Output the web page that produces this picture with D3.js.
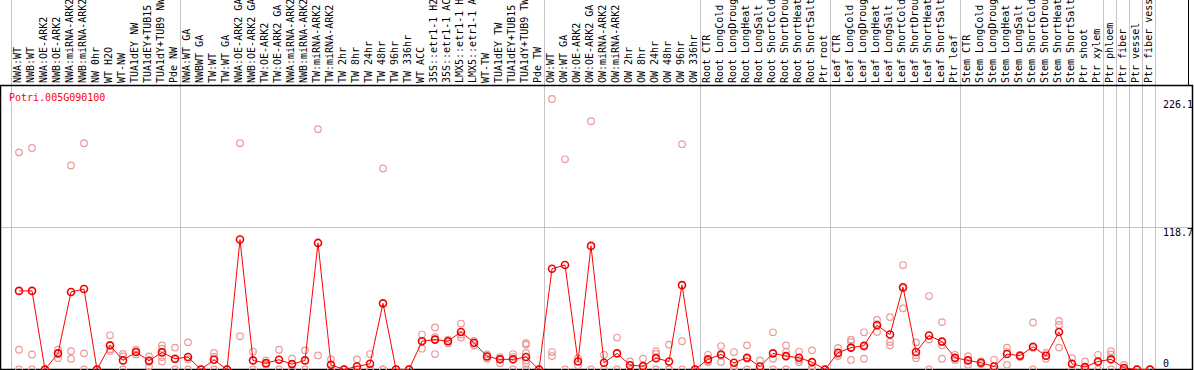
<!DOCTYPE html>
<html>
<head>
<meta charset="utf-8">
<script src="https://cdn.jsdelivr.net/npm/d3@7"></script>
<style>
  body { margin: 0; background: #fff; }
  svg { display: block; }
  text { font-family: "DejaVu Sans Mono", monospace; font-size: 10px; }
</style>
</head>
<body>
<svg></svg>
<script>
// sample names (cut to 14 chars like the original)
const samples = [
  "NWA:WT", "NWB:WT", "NWA:OE-ARK2", "NWB:OE-ARK2", "NWA:miRNA-ARK2", "NWB:miRNA-ARK2",
  "NW 0hr", "WT H2O", "WT-NW", "TUA1dEY NW", "TUA1dEY+TUB15", "TUA1dY+TUB9 NW", "Pde NW",
  "NWA:WT GA", "NWBWT GA", "TW:WT", "TW:WT GA", "NWA:OE-ARK2 GA", "NWB:OE-ARK2 GA",
  "TW:OE-ARK2", "TW:OE-ARK2 GA", "NWA:miRNA-ARK2", "NWB:miRNA-ARK2", "TW:miRNA-ARK2",
  "TW:miRNA-ARK2", "TW 2hr", "TW 8hr", "TW 24hr", "TW 48hr", "TW 96hr", "TW 336hr",
  "WT ACC", "35S::etr1-1 H2", "35S::etr1-1 AC", "LMX5::etr1-1 H", "LMX5::etr1-1 A",
  "WT-TW", "TUA1dEY TW", "TUA1dEY+TUB15", "TUA1dY+TUB9 TW", "Pde TW",
  "OW:WT", "OW:WT GA", "OW:OE-ARK2", "OW:OE-ARK2 GA", "OW:miRNA-ARK2", "OW:miRNA-ARK2",
  "OW 2hr", "OW 8hr", "OW 24hr", "OW 48hr", "OW 96hr", "OW 336hr",
  "Root CTR", "Root LongCold", "Root LongDroug", "Root LongHeat", "Root LongSalt",
  "Root ShortCold", "Root ShortDrou", "Root ShortHeat", "Root ShortSalt", "Ptr root",
  "Leaf CTR", "Leaf LongCold", "Leaf LongDroug", "Leaf LongHeat", "Leaf LongSalt",
  "Leaf ShortCold", "Leaf ShortDrou", "Leaf ShortHeat", "Leaf ShortSalt", "Ptr leaf",
  "Stem CTR", "Stem LongCold", "Stem LongDroug", "Stem LongHeat", "Stem LongSalt",
  "Stem ShortCold", "Stem ShortDrou", "Stem ShortHeat", "Stem ShortSalt", "Ptr shoot",
  "Ptr xylem", "Ptr phloem", "Ptr fiber", "Ptr vessel", "Ptr fiber vess"
];

// mean expression per sample
const means = [
  65.7, 65.7, 0, 13.5, 64.8, 67.3, 0, 20.2, 7.6, 14.6, 7.3, 14.3, 9,
  10.4, 0, 8.1, 0, 108.6, 7.6, 5.3, 8.1, 4.5, 7.6, 105.8, 3.9, 0, 2.5, 4.8, 55.3, 0, 0,
  23.6, 25, 23.6, 31.4, 22.4, 10.9, 8.5, 8.5, 10.4, 0,
  84.2, 87.3, 6.7, 103.3, 5.6, 13.5, 3.6, 2.8, 9.5, 6.7, 70.5, 0,
  8.5, 12.6, 5.6, 9.8, 2.5, 13.5, 11.2, 9.8, 6.2, 0,
  14, 18.3, 19.9, 37, 29.2, 68.8, 14.6, 28.4, 23.3, 9.8,
  7.6, 5.6, 2.5, 12.9, 11.5, 19, 11.5, 31.4, 4.8, 2, 6.7,
  8.5, 1.3, 0, 0
];

// individual replicates per sample
const replicates = [
  [181.5, 16.5, 0], [185.2, 12.6, 0], [0, 0, 0], [16.5, 13.5, 9.5], [170.6, 15.4, 9],
  [189.1, 13.5, 0], [0, 0], [28.6, 17, 15.4], [13, 11, 0], [16.5, 14.6, 12.6],
  [11, 6.2, 2.5], [20.2, 17.4, 10.4, 6.7], [18.3, 8.5, 0],
  [22.7, 8.5, 0], [0, 0], [13.8, 10.5, 0], [0, 0], [189.1, 27.8], [15, 0],
  [7.6, 4], [16.5, 0], [9, 0], [16, 0], [200.9, 11.8], [8.5, 0], [0, 0],
  [8.5, 0, 0], [12.9, 0, 0], [168.1, 0, 0], [0, 0], [0, 0],
  [29.2, 24, 17.4], [35.1, 27, 12.9], [25, 23.6, 22], [38.4, 29, 26.7], [24, 21.6, 20],
  [12.6, 10.9, 9], [10.4, 9, 5.3], [12.9, 10.4, 0], [22, 20.8, 13.8, 7.6, 4.8, 0], [0, 0],
  [226.1, 14.6, 11.2], [175.7, 0], [9.5, 3.6], [207.6, 0], [12.3, 0], [26.7, 0],
  [6.7, 0], [9, 0, 0], [15.4, 13, 0], [20.8, 0, 0], [188.3, 23.6, 0], [0, 0],
  [12.3, 7, 6.2], [19.6, 12, 6.2], [14.6, 2, 0], [20.2, 9, 0], [7.6, 0, 0],
  [31.1, 9, 0], [20.2, 14.6, 0], [15, 8, 6.2], [16, 2, 0], [0, 0],
  [18, 12.5, 11.2], [25, 23, 8], [31.1, 19, 9], [41.5, 38, 31.4], [43.8, 23, 20.2],
  [87.3, 68, 51.1], [22.7, 12, 9.5], [61.4, 25, 0], [39.6, 20.2, 9], [12.3, 9, 8],
  [11.2, 8, 3.9], [6.7, 5.6, 4.5], [8.1, 0, 0], [18.3, 14.6, 3.9], [12.2, 11.5, 10.4],
  [39.3, 18, 0], [13.8, 11.5, 9], [40.6, 37.2, 18.3], [9.5, 4.8, 0], [6.7, 0, 0],
  [12.3, 6.2, 0], [15.4, 12.6, 0], [3.9, 0, 0], [0, 0], [0, 0]
];

// group boundaries (sample index where a divider is drawn)
const dividers = [0, 13, 41, 53, 63, 73, 84, 85, 86, 87, 88];
const yTicks = [0, 118.7, 226.1];
const geneName = "Potri.005G090100";

let width = 1194, height = 370;
let headerBottom = 85, plotBottom = 369.5;

let svg = d3.select('svg')
    .attr('width', width)
    .attr('height', height);

let xBand = d3.scaleBand()
    .domain(d3.range(samples.length + 1))
    .range([11, 11 + 13 * (samples.length + 1)])
    .padding(0);

let xPos = i => xBand(i) + 8;

let yScale = d3.scaleLinear()
    .domain([0, 226.1])
    .range([plotBottom, 99]);

// vertical group dividers
svg.append('g')
    .selectAll('line')
    .data(dividers)
    .enter()
    .append('line')
    .attr('x1', d => xBand(d) + 0.5)
    .attr('x2', d => xBand(d) + 0.5)
    .attr('y1', 0)
    .attr('y2', plotBottom)
    .attr('stroke', '#c4c4c4');

// mid grid line
svg.append('line')
    .attr('x1', 1).attr('x2', 1192)
    .attr('y1', Math.round(yScale(118.7)) + 0.5)
    .attr('y2', Math.round(yScale(118.7)) + 0.5)
    .attr('stroke', '#c4c4c4');

// frame
svg.append('rect')
    .attr('x', 0.5).attr('y', headerBottom + 0.5)
    .attr('width', 1192).attr('height', plotBottom - headerBottom - 0.5)
    .attr('fill', 'none')
    .attr('stroke', '#000')
    .attr('stroke-width', 1.5);

svg.append('line')
    .attr('x1', 1188.5).attr('x2', 1188.5)
    .attr('y1', 0).attr('y2', headerBottom)
    .attr('stroke', '#000');

// sample labels, rotated
svg.append('g')
    .selectAll('text')
    .data(samples)
    .enter()
    .append('text')
    .attr('transform', (d, i) => `translate(${xPos(i) + 2},${headerBottom - 2}) rotate(-90)`)
    .attr('fill', '#000')
    .text(d => d);

// replicate points
let repPoints = [];
replicates.forEach((r, i) => r.forEach(v => repPoints.push({i: i, v: v})));

svg.append('g')
    .selectAll('circle')
    .data(repPoints)
    .enter()
    .append('circle')
    .attr('cx', d => xPos(d.i))
    .attr('cy', d => yScale(d.v))
    .attr('r', 3.3)
    .attr('fill', 'none')
    .attr('stroke', '#eb9a9a')
    .attr('stroke-width', 1.2);

// mean line
let line = d3.line()
    .x((d, i) => xPos(i))
    .y(d => yScale(d));

svg.append('path')
    .datum(means)
    .attr('d', line)
    .attr('fill', 'none')
    .attr('stroke', '#ff0000')
    .attr('stroke-width', 1);

svg.append('g')
    .selectAll('circle')
    .data(means)
    .enter()
    .append('circle')
    .attr('cx', (d, i) => xPos(i))
    .attr('cy', d => yScale(d))
    .attr('r', 3.5)
    .attr('fill', 'none')
    .attr('stroke', '#f00000')
    .attr('stroke-width', 1.6);

// title
svg.append('text')
    .attr('x', 9)
    .attr('y', 101)
    .attr('fill', '#ff0000')
    .text(geneName);

// y labels on the right
svg.append('g')
    .selectAll('text')
    .data(yTicks)
    .enter()
    .append('text')
    .attr('x', 1163)
    .attr('y', d => d === 0 ? yScale(d) - 3 : yScale(d) + 9)
    .attr('fill', '#000')
    .text(d => d);
</script>
</body>
</html>
